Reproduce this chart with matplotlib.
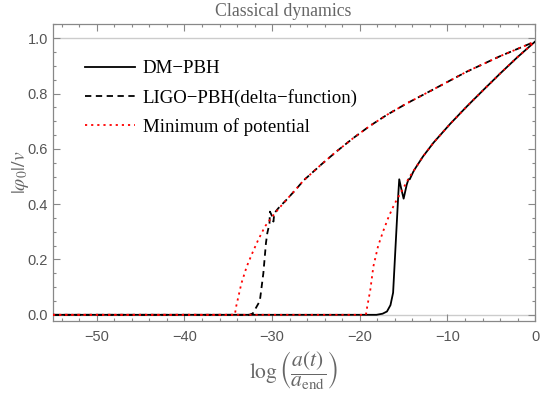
import matplotlib
matplotlib.use("Agg")
import matplotlib.pyplot as plt
from matplotlib.ticker import MultipleLocator, FuncFormatter, FormatStrFormatter

plt.rcParams['mathtext.fontset'] = 'stix'

# DM-PBH field evolution (solid black)
dm_x = [-55, -18.1, -17.4, -16.9, -16.5, -16.2, -16.0, -15.8, -15.6, -15.5, -15.3,
        -15.0, -14.65, -14.45, -14.3, -13.9, -13.7, -12.8, -11.6, -9.7, -7.8, -5.9,
        -4.0, -2.1, 0]
dm_y = [0, 0, 0.004, 0.012, 0.035, 0.08, 0.20, 0.32, 0.44, 0.49, 0.46,
        0.42, 0.47, 0.49, 0.49, 0.517, 0.528, 0.572, 0.622, 0.69, 0.753, 0.813,
        0.872, 0.929, 0.988]

# LIGO-PBH (delta-function) field evolution (dashed black)
ligo_x = [-55, -32.6, -32.2, -31.4, -31.0, -30.7, -30.55, -30.3, -30.25, -30.05,
          -29.85, -29.75, -29.3, -28.3, -27.3, -26.4, -24.3, -22.6, -20.7, -18.8,
          -16.9, -14.6, -11.6, -7.8, -4.0, 0]
ligo_y = [0, 0, 0.005, 0.05, 0.15, 0.26, 0.295, 0.33, 0.373, 0.36,
          0.337, 0.367, 0.385, 0.418, 0.453, 0.486, 0.546, 0.592, 0.640, 0.684,
          0.723, 0.765, 0.815, 0.879, 0.935, 0.988]

# Minimum of potential (dotted red), LIGO case
min_ligo_x = [-55, -34.25, -34.1, -33.9, -33.5, -32.9, -32.3, -31.6, -30.8, -30.05,
              -29.3, -28.3, -27.3, -26.4, -24.3, -22.6, -20.7, -18.8, -16.9, -14.6,
              -11.6, -7.8, -4.0, 0]
min_ligo_y = [0, 0, 0.03, 0.058, 0.114, 0.174, 0.22, 0.27, 0.32, 0.352,
              0.382, 0.418, 0.453, 0.486, 0.546, 0.592, 0.640, 0.684, 0.723, 0.765,
              0.815, 0.879, 0.935, 0.988]

# Minimum of potential (dotted red), DM case
min_dm_x = [-55, -19.3, -19.15, -18.8, -18.45, -17.9, -17.3, -16.7, -16.2, -15.8,
            -15.0, -14.3, -13.7, -12.8, -11.6, -9.7, -7.8, -5.9, -4.0, -2.1, 0]
min_dm_y = [0, 0, 0.03, 0.09, 0.175, 0.25, 0.305, 0.355, 0.39, 0.415,
            0.46, 0.50, 0.528, 0.572, 0.622, 0.69, 0.753, 0.813, 0.872, 0.929, 0.988]

labels = ["DM\u2212PBH", "LIGO\u2212PBH(delta\u2212function)", "Minimum of potential"]

fig = plt.figure(figsize=(5.4, 3.97), dpi=100)
ax = fig.add_axes([0.098, 0.191, 0.893, 0.749])

gray = '#888888'
tgray = '#555555'

ax.axhline(0, color='#cccccc', lw=1.0, zorder=1)
ax.axhline(1, color='#cccccc', lw=1.0, zorder=1)

l1, = ax.plot(dm_x, dm_y, color='black', lw=1.3, zorder=3, label=labels[0])
l2, = ax.plot(ligo_x, ligo_y, color='black', lw=1.3, ls=(0, (3.5, 2.5)), zorder=3, label=labels[1])
l3, = ax.plot(min_ligo_x, min_ligo_y, color='red', lw=1.3, ls=(0, (1.2, 2.2)), zorder=4, label=labels[2])
ax.plot(min_dm_x, min_dm_y, color='red', lw=1.3, ls=(0, (1.2, 2.2)), zorder=4)

ax.set_xlim(-55, 0)
ax.set_ylim(-0.023, 1.052)

ax.xaxis.set_major_locator(MultipleLocator(10))
ax.xaxis.set_minor_locator(MultipleLocator(2))
ax.yaxis.set_major_locator(MultipleLocator(0.2))
ax.yaxis.set_minor_locator(MultipleLocator(0.05))
ax.xaxis.set_major_formatter(FuncFormatter(
    lambda v, p: ("\u2212%d" % round(-v)) if v < 0 else "%d" % round(v)))
ax.yaxis.set_major_formatter(FormatStrFormatter('%.1f'))

ax.tick_params(which='both', direction='in', top=True, right=True, color=gray,
               labelcolor=tgray, labelsize=10.5, width=0.8)
ax.tick_params(which='major', length=5)
ax.tick_params(axis='x', which='major', pad=6)
ax.tick_params(which='minor', length=2.5)
for lab in ax.get_xticklabels() + ax.get_yticklabels():
    lab.set_family('Liberation Sans')
for s in ax.spines.values():
    s.set_color(gray)
    s.set_linewidth(0.9)

fig.text(283 / 540, 1 - 11 / 397, "Classical dynamics", family='Liberation Serif',
         fontsize=12.8, color='#666666', ha='center', va='center')
ax.set_xlabel(r"$\log\left(\dfrac{a(t)}{a_{\mathrm{end}}}\right)$", fontsize=15.5,
              color='#666666', va='top')
ax.xaxis.set_label_coords(0.5, -0.095)
ax.set_ylabel(r"$|\varphi_0|/v$", fontsize=14, color='#666666', va='center')
ax.yaxis.set_label_coords(-0.068, 0.5)

leg = ax.legend(handles=[l1, l2, l3], loc='upper left', bbox_to_anchor=(0.031, 0.935),
                frameon=False, prop={'family': 'Liberation Serif', 'size': 13.6},
                handlelength=2.65, handletextpad=0.42, labelspacing=0.6)

fig.savefig("out.png", dpi=100)
